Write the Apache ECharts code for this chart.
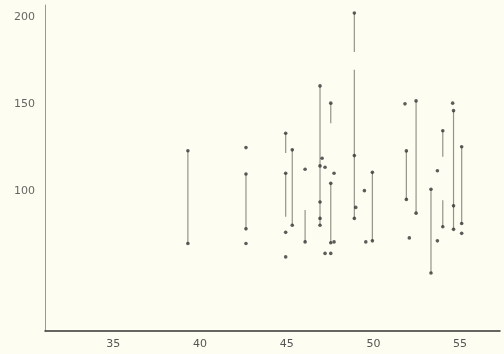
<!DOCTYPE html>
<html>
<head>
<meta charset="utf-8">
<script src="https://cdn.jsdelivr.net/npm/echarts@6/dist/echarts.min.js"></script>
<style>
  html, body { margin: 0; padding: 0; background: #fdfdf1; }
  #main { width: 504px; height: 354px; }
</style>
</head>
<body>
<div id="main"></div>
<script>
// vertical segments: x, low end, high end
var segX    = [39.3, 42.65, 44.94, 44.94, 45.32, 46.06, 46.92, 47.54, 47.54, 48.9, 48.9, 49.94, 51.9, 52.46, 53.32, 54.0, 54.0, 54.62, 55.09];
var segLow  = [70.2, 78.6, 122.1, 85.5, 80.7, 71.1, 80.7, 139.2, 70.6, 180.0, 84.6, 71.7, 95.5, 87.6, 53.3, 120.0, 79.8, 78.3, 81.7];
var segHigh = [123.4, 110.1, 133.4, 110.5, 123.9, 89.4, 160.6, 150.7, 104.7, 202.4, 169.8, 111.0, 123.3, 152.0, 101.3, 134.9, 95.0, 146.4, 125.7];

// points (segment ends included where a dot is drawn)
var dotX = [39.3, 39.3,
    42.65, 42.65, 42.65, 42.65,
    44.94, 44.94, 44.94, 44.94,
    45.32, 45.32,
    46.06, 46.06,
    46.92, 46.92, 46.92, 46.92, 46.92, 47.04,
    47.21, 47.21,
    47.54, 47.54, 47.54, 47.54,
    47.73, 47.73,
    48.9, 48.9, 48.9, 48.98,
    49.48, 49.56,
    49.94, 49.94,
    51.82, 51.9, 51.9, 52.07,
    52.46, 52.46,
    53.32, 53.32,
    53.69, 53.69,
    54.0, 54.0,
    54.57, 54.62, 54.62, 54.62,
    55.09, 55.09, 55.09];
var dotY = [123.4, 70.2,
    125.2, 110.1, 78.6, 70.2,
    133.4, 110.5, 76.6, 62.5,
    123.9, 80.7,
    112.8, 71.1,
    160.6, 114.7, 94.0, 84.6, 80.7, 119.1,
    113.9, 64.5,
    150.7, 104.7, 70.6, 64.5,
    110.5, 71.1,
    202.4, 120.6, 84.6, 90.9,
    100.5, 71.1,
    111.0, 71.7,
    150.3, 123.3, 95.5, 73.4,
    152.0, 87.6,
    101.3, 53.3,
    111.9, 71.7,
    134.9, 79.8,
    150.7, 146.4, 91.8, 78.3,
    125.7, 81.7, 76.0];

var xTicks = [35, 40, 45, 50, 55];
var yTicks = [100, 150, 200];

var segData = segX.map(function (x, i) { return [x, segLow[i], segHigh[i]]; });
var dotData = dotX.map(function (x, i) { return [x, dotY[i]]; });

var chart = echarts.init(document.getElementById('main'));
var option = {
    backgroundColor: '#fdfdf1',
    animation: false,
    grid: { left: 45, right: 4, top: 5, bottom: 23 },
    xAxis: {
        type: 'value',
        min: 31.06,
        max: 57.3,
        splitLine: { show: false },
        axisTick: { show: false },
        axisLine: { lineStyle: { color: '#333', width: 1.5 } },
        axisLabel: {
            customValues: xTicks,
            color: '#555',
            fontFamily: 'DejaVu Sans',
            fontSize: 11,
            margin: 8
        }
    },
    yAxis: {
        type: 'value',
        min: 20,
        max: 207,
        splitLine: { show: false },
        axisTick: { show: false },
        axisLine: { show: true, lineStyle: { color: '#999', width: 1 } },
        axisLabel: {
            customValues: yTicks,
            color: '#666',
            fontFamily: 'DejaVu Sans',
            fontSize: 11,
            margin: 10
        }
    },
    series: [{
        type: 'custom',
        data: segData,
        renderItem: function (params, api) {
            var a = api.coord([api.value(0), api.value(1)]);
            var b = api.coord([api.value(0), api.value(2)]);
            return {
                type: 'line',
                shape: { x1: a[0], y1: a[1], x2: b[0], y2: b[1] },
                style: { stroke: '#94948a', lineWidth: 1.2 }
            };
        },
        z: 1
    }, {
        type: 'scatter',
        data: dotData,
        symbol: 'circle',
        symbolSize: 3.6,
        itemStyle: { color: '#333' },
        z: 2
    }]
};
chart.setOption(option);
</script>
</body>
</html>
